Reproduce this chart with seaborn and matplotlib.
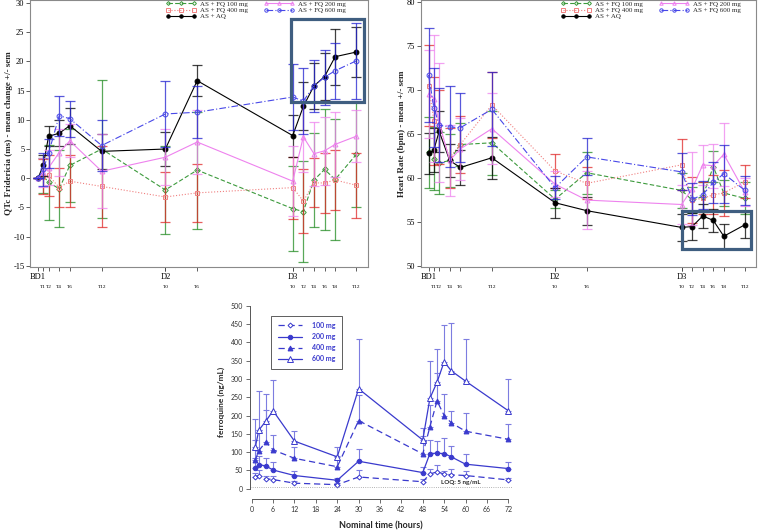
import numpy as np
import pandas as pd
import matplotlib
matplotlib.use('Agg')
import matplotlib.pyplot as plt
from matplotlib.patches import Rectangle
import seaborn as sns

# ECG sampling times (hours from first dose)
ecg_times = [0, 1, 2, 4, 6, 12, 24, 30, 48, 50, 52, 54, 56, 60]
day_ticks = [0, 24, 48]
day_labels = ['BD1', 'D2', 'D3']
hour_ticks = [1, 2, 4, 6, 12, 24, 30, 48, 50, 52, 54, 56, 60]
hour_labels = ['T1', 'T2', 'T4', 'T6', 'T12', 'T0', 'T6', 'T0', 'T2', 'T4', 'T6', 'T8', 'T12']

# QTc Fridericia change from baseline (ms), mean and sem
qtc_fq100 = [0, 0.4, -0.7, -1.8, 2.2, 5.0, -2.0, 1.4, -5.2, -5.7, -0.3, 1.5, -0.2, 4.1]
qtc_fq100_sem = [0, 3.0, 6.4, 6.6, 6.2, 11.8, 7.5, 10.0, 7.3, 8.6, 8.1, 10.4, 10.4, 9.0]
qtc_fq200 = [0, 1.0, 1.8, 4.4, 6.4, 1.2, 3.6, 6.2, -0.5, 7.1, 4.2, 4.7, 5.8, 7.2]
qtc_fq200_sem = [0, 2.5, 3.0, 4.0, 2.8, 6.3, 4.8, 5.5, 6.0, 6.0, 5.5, 5.8, 5.6, 4.4]
qtc_fq400 = [0, 0.3, 0.5, -1.6, -0.5, -1.4, -3.2, -2.5, -1.6, -3.9, -0.8, -0.8, -0.3, -1.2]
qtc_fq400_sem = [0, 3.0, 3.5, 3.4, 4.5, 7.0, 4.3, 5.0, 5.3, 5.5, 4.2, 5.1, 5.2, 5.6]
qtc_fq600 = [0, 1.5, 4.3, 10.7, 10.2, 5.6, 11.0, 11.3, 13.9, 13.2, 15.8, 17.3, 18.4, 20.1]
qtc_fq600_sem = [0, 2.8, 2.5, 3.4, 3.1, 4.4, 5.7, 4.4, 5.7, 5.6, 4.5, 4.7, 4.8, 6.5]
qtc_aq = [0, 2.2, 7.2, 7.7, 9.0, 4.6, 5.0, 16.7, 7.3, 12.3, 15.8, 17.4, 20.8, 21.6]
qtc_aq_sem = [0, 1.8, 1.7, 2.2, 3.1, 3.0, 2.9, 2.6, 3.6, 4.1, 3.9, 4.0, 4.8, 4.2]

# Heart rate (bpm), mean and sem
hr_fq100 = [62.9, 62.2, 61.7, 62.0, 63.8, 64.0, 57.6, 60.6, 58.6, 57.5, 57.9, 61.3, 58.3, 57.7]
hr_fq100_sem = [4.0, 3.6, 3.5, 3.0, 2.4, 3.6, 1.0, 2.4, 2.0, 1.5, 1.7, 1.8, 1.5, 1.8]
hr_fq200 = [69.5, 69.0, 66.3, 62.0, 63.3, 65.6, 59.3, 57.5, 57.0, 58.8, 61.5, 61.4, 62.7, 58.4]
hr_fq200_sem = [5.0, 7.2, 6.7, 4.0, 3.5, 4.0, 1.5, 3.3, 2.2, 4.1, 2.3, 2.5, 3.6, 1.6]
hr_fq400 = [70.5, 66.5, 65.8, 62.3, 63.8, 68.3, 60.8, 59.4, 61.5, 57.5, 57.7, 58.1, 58.3, 59.6]
hr_fq400_sem = [4.6, 5.0, 4.2, 3.4, 3.2, 3.7, 1.9, 1.8, 2.9, 2.6, 1.8, 2.2, 2.6, 1.9]
hr_fq600 = [71.7, 68.0, 66.0, 65.8, 65.7, 67.8, 58.9, 62.4, 60.7, 57.6, 58.1, 59.5, 60.5, 58.6]
hr_fq600_sem = [5.3, 4.5, 4.2, 4.6, 3.9, 4.2, 1.3, 2.1, 2.1, 1.8, 1.6, 2.3, 3.3, 1.6]
hr_aq = [62.8, 63.2, 65.3, 62.0, 61.2, 62.3, 57.2, 56.3, 54.4, 54.5, 55.7, 55.2, 53.4, 54.7]
hr_aq_sem = [2.3, 2.5, 2.3, 1.9, 2.0, 2.4, 1.7, 1.6, 1.5, 1.5, 1.4, 1.3, 1.4, 1.5]

# Ferroquine concentrations (ng/mL): mean and mean + sd
pk_times = [1, 2, 4, 6, 12, 24, 30, 48, 50, 52, 54, 56, 60, 72]
pk_100 = [33, 36, 27, 25, 15, 11, 32, 19, 40, 46, 40, 38, 36, 24]
pk_100_up = [42, 50, 35, 36, 20, 16, 50, 27, 53, 66, 49, 53, 47, 30]
pk_200 = [56, 66, 62, 51, 36, 23, 75, 44, 96, 97, 96, 87, 67, 55]
pk_200_up = [85, 88, 85, 72, 47, 30, 108, 58, 133, 130, 138, 117, 94, 72]
pk_400 = [78, 104, 128, 106, 83, 60, 186, 95, 169, 240, 200, 180, 157, 135]
pk_400_up = [133, 160, 215, 148, 113, 88, 255, 145, 228, 315, 258, 213, 206, 176]
pk_600 = [113, 160, 185, 213, 130, 87, 273, 133, 247, 291, 347, 322, 294, 213]
pk_600_up = [190, 267, 260, 296, 157, 115, 410, 167, 348, 383, 447, 452, 408, 301]

sns.set_theme(style='white')
plt.rcParams['font.family'] = ['Liberation Serif', 'DejaVu Serif']
plt.rcParams['axes.unicode_minus'] = False

fig = plt.figure(figsize=(7.58, 5.31), dpi=100)
ax1 = fig.add_axes([0.0396, 0.497, 0.446, 0.503])
ax2 = fig.add_axes([0.555, 0.497, 0.443, 0.503])
ax3 = fig.add_axes([0.3297, 0.0597, 0.3456, 0.368])

# group styles: label, line colour, error colour, linestyle, marker, filled
groups = [
    ('AS + FQ 100 mg', '#3c9a3c', '#228b22', (0, (4, 2)), 'D', False),
    ('AS + FQ 400 mg', '#f08080', '#e02828', ':', 's', False),
    ('AS + AQ', 'black', 'black', '-', 'o', True),
    ('AS + FQ 200 mg', '#ee82ee', '#ee82ee', '-', '^', False),
    ('AS + FQ 600 mg', '#4848e8', '#2020d0', (0, (6, 2, 1, 2)), 'o', False),
]
qtc_data = {
    'AS + FQ 100 mg': (qtc_fq100, qtc_fq100_sem),
    'AS + FQ 200 mg': (qtc_fq200, qtc_fq200_sem),
    'AS + FQ 400 mg': (qtc_fq400, qtc_fq400_sem),
    'AS + FQ 600 mg': (qtc_fq600, qtc_fq600_sem),
    'AS + AQ': (qtc_aq, qtc_aq_sem),
}
hr_data = {
    'AS + FQ 100 mg': (hr_fq100, hr_fq100_sem),
    'AS + FQ 200 mg': (hr_fq200, hr_fq200_sem),
    'AS + FQ 400 mg': (hr_fq400, hr_fq400_sem),
    'AS + FQ 600 mg': (hr_fq600, hr_fq600_sem),
    'AS + AQ': (hr_aq, hr_aq_sem),
}


def ecg_panel(ax, data, ylim, yticks, ylabel, box, legend_x):
    for label, lc, ec, ls, mk, filled in groups:
        mean, sem = data[label]
        df = pd.DataFrame({'time': ecg_times, 'value': mean})
        ax.errorbar(ecg_times, mean, yerr=sem, fmt='none', ecolor=ec,
                    elinewidth=0.9, capsize=3.5, capthick=0.9, alpha=0.75)
        sns.lineplot(data=df, x='time', y='value', ax=ax, color=lc, lw=0.8,
                     linestyle=ls, marker=mk, markersize=3.5 if mk != 'D' else 2.8,
                     markerfacecolor=lc if filled else 'none',
                     markeredgecolor=lc, markeredgewidth=0.7, label=label)
    ax.add_patch(Rectangle((box[0], box[1]), box[2] - box[0], box[3] - box[1],
                           fill=False, edgecolor='#3f5e80', lw=2.3, zorder=5))
    ax.set_xlim(-1.5, 62.2)
    ax.set_ylim(*ylim)
    ax.set_yticks(yticks)
    ax.set_ylabel(ylabel, fontsize=6.5, fontweight='bold', labelpad=0.5)
    ax.set_xlabel('')
    ax.xaxis.remove_overlapping_locs = False
    ax.set_xticks(day_ticks)
    ax.set_xticklabels(day_labels, fontsize=6)
    ax.set_xticks(hour_ticks, minor=True)
    ax.set_xticklabels(hour_labels, minor=True, fontsize=3.8)
    ax.tick_params(axis='x', which='major', direction='out', length=3, width=0.6,
                   pad=1, bottom=True, colors='#444444', labelcolor='black')
    ax.tick_params(axis='x', which='minor', direction='out', length=3, width=0.6,
                   pad=10, bottom=True, colors='#444444', labelcolor='black')
    ax.tick_params(axis='y', direction='out', length=3, width=0.6, pad=1,
                   labelsize=6, left=True, colors='#444444', labelcolor='black')
    for sp in ax.spines.values():
        sp.set_color('#8a8a8a')
        sp.set_linewidth(0.8)
    handles, labels = ax.get_legend_handles_labels()
    ax.legend(handles, labels, ncol=2, loc='upper left',
              bbox_to_anchor=(legend_x, 1.012), frameon=False, fontsize=5,
              handlelength=4.3, numpoints=3, markerscale=0.7, labelspacing=0.05,
              columnspacing=2.3, handletextpad=0.6, borderpad=0.1)


ecg_panel(ax1, qtc_data, (-15.2, 30.5), np.arange(-15, 31, 5),
          'QTc Fridericia (ms) - mean change +/- sem', (47.7, 13.1, 61.4, 27.3), 0.39)
ecg_panel(ax2, hr_data, (49.9, 80.2), np.arange(50, 81, 5),
          'Heart Rate (bpm) - mean +/- sem', (48.0, 52.0, 61.2, 56.3), 0.405)

# Pharmacokinetic panel
pk_font = ['Lato', 'DejaVu Sans']
pk_color = '#3a3acd'
pk_groups = [
    ('100 mg', pk_100, pk_100_up, (0, (5, 3)), 'D', False, 2.5),
    ('200 mg', pk_200, pk_200_up, '-', 'o', True, 3.2),
    ('400 mg', pk_400, pk_400_up, (0, (5, 3)), '^', True, 3.5),
    ('600 mg', pk_600, pk_600_up, '-', '^', False, 5.0),
]
for label, mean, up, ls, mk, filled, ms in pk_groups:
    mean = np.array(mean)
    err = np.array(up) - mean
    ax3.errorbar(pk_times, mean, yerr=[np.zeros_like(err), err], fmt='none',
                 ecolor='#7d7de0', elinewidth=0.8, capsize=2.5, capthick=0.8)
    df = pd.DataFrame({'time': pk_times, 'conc': mean})
    sns.lineplot(data=df, x='time', y='conc', ax=ax3, color=pk_color, lw=0.9,
                 linestyle=ls, marker=mk, markersize=ms,
                 markerfacecolor=pk_color if filled else 'white',
                 markeredgecolor=pk_color, markeredgewidth=0.7, label=label)

ax3.axhline(5, xmin=0.0, xmax=1.0, color='#999999', lw=0.6, ls=':')
ax3.text(53, 14, 'LOQ: 5 ng/mL', fontsize=4.5, fontweight='bold', family=pk_font)
ax3.set_xlim(-0.5, 73)
ax3.set_ylim(-29, 505)
ax3.set_xticks(np.arange(0, 73, 6))
ax3.set_yticks(np.arange(0, 501, 50))
sns.despine(ax=ax3)
ax3.spines['left'].set_bounds(0, 500)
ax3.spines['bottom'].set_bounds(0, 72)
for sp in ('left', 'bottom'):
    ax3.spines[sp].set_color('#555555')
    ax3.spines[sp].set_linewidth(0.7)
ax3.tick_params(direction='out', length=3, width=0.6, pad=2, labelsize=5,
                left=True, bottom=True, colors='#555555', labelcolor='#333333')
for t in ax3.get_xticklabels() + ax3.get_yticklabels():
    t.set_family(pk_font)
ax3.set_xlabel('Nominal time (hours)', fontsize=6.5, fontweight='bold', family=pk_font, labelpad=6)
ax3.set_ylabel('ferroquine (ng/mL)', fontsize=6, fontweight='bold', family=pk_font, labelpad=4)
leg = ax3.legend(loc='upper left', bbox_to_anchor=(0.069, 0.958),
                 frameon=True, fancybox=False, edgecolor='#444444', framealpha=1,
                 handlelength=3.5, numpoints=1, labelspacing=0.6,
                 borderpad=0.9, handletextpad=1.5, prop={'family': pk_font, 'weight': 'bold', 'size': 5})
leg.get_frame().set_linewidth(0.6)
for t in leg.get_texts():
    t.set_color(pk_color)

fig.savefig('out.png', dpi=100)
